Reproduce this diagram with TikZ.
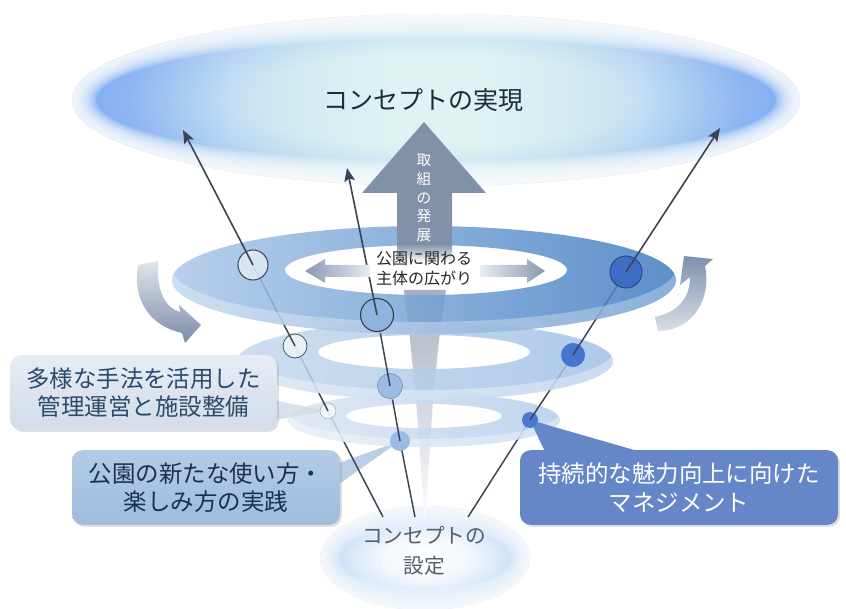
\documentclass[tikz,border=0pt]{standalone}
\usepackage{fontspec}
\setmainfont{Noto Sans CJK JP}
\usetikzlibrary{arrows.meta,shadows}
\definecolor{gc0}{HTML}{DFF3F2}
\definecolor{gside}{HTML}{6A9CF2}
\definecolor{gs1}{HTML}{72A1F3}
\definecolor{gs2}{HTML}{8DB5F3}
\definecolor{gs3}{HTML}{B4D2F4}
\definecolor{gs4}{HTML}{CCE7F1}
\definecolor{edgeb}{HTML}{9CC2F2}
\definecolor{bg0}{HTML}{FFFFFF}
\definecolor{bg1}{HTML}{F4F8FD}
\definecolor{bg2}{HTML}{D8E8F9}
\definecolor{bg3}{HTML}{BCD6F5}
\definecolor{spk}{HTML}{A9B1C0}
\definecolor{lnc}{HTML}{3B4454}
\definecolor{lr1}{HTML}{DCE7F3}
\definecolor{lr2}{HTML}{B4CEEC}
\definecolor{mr1}{HTML}{C6D9EE}
\definecolor{mr2}{HTML}{A2C1E6}
\definecolor{tr1}{HTML}{ACC9E9}
\definecolor{tr2}{HTML}{77A3D6}
\definecolor{tr3}{HTML}{407CC1}
\definecolor{agray}{HTML}{8290A8}
\definecolor{ha1}{HTML}{8A98B0}
\definecolor{ha2}{HTML}{E8ECF2}
\definecolor{ca1}{HTML}{E0E5EC}
\definecolor{ca2}{HTML}{7C8CA8}
\definecolor{cb1}{HTML}{7F90AE}
\definecolor{cb2}{HTML}{D8DEE7}
\definecolor{b1top}{HTML}{E6EDF4}
\definecolor{b1bot}{HTML}{D2DDE9}
\definecolor{b1txt}{HTML}{2E4A6A}
\definecolor{b2top}{HTML}{B3CBE5}
\definecolor{b2bot}{HTML}{9FBCDD}
\definecolor{b2txt}{HTML}{1B304E}
\definecolor{b3c}{HTML}{6586C7}
\definecolor{titlec}{HTML}{1E2B3C}
\definecolor{subc}{HTML}{262626}
\definecolor{botc}{HTML}{565F6B}
\definecolor{cm1c}{HTML}{98BCE4}
\definecolor{cm2c}{HTML}{9CBCE2}
\definecolor{cm2d}{HTML}{7D9CC6}
\definecolor{cm3c}{HTML}{8DB3DE}
\definecolor{cm3d}{HTML}{2F3B4E}
\definecolor{cr1c}{HTML}{4B78D0}
\definecolor{cr2c}{HTML}{4675D0}
\definecolor{cr3c}{HTML}{3E6DC6}
\definecolor{cr3d}{HTML}{2A457C}
\definecolor{cl3d}{HTML}{3E4A5C}
\definecolor{cl2d}{HTML}{4A5566}
\definecolor{cl1d}{HTML}{A8B6C6}
\pgfdeclarehorizontalshading{tophz}{100bp}{color(0bp)=(gside); color(25bp)=(gside); color(29bp)=(gs1); color(32bp)=(gs2); color(36bp)=(gs3); color(41bp)=(gs4); color(47bp)=(gc0); color(53bp)=(gc0); color(59bp)=(gs4); color(64bp)=(gs3); color(68bp)=(gs2); color(71bp)=(gs1); color(75bp)=(gside); color(100bp)=(gside)}
\pgfdeclareradialshading{toprad}{\pgfpoint{0bp}{0bp}}{color(0bp)=(gc0); color(13bp)=(gc0); color(25bp)=(edgeb); color(50bp)=(edgeb)}
\pgfdeclareradialshading{botglow}{\pgfpoint{0bp}{0bp}}{color(0bp)=(bg0); color(10bp)=(bg1); color(18bp)=(bg2); color(23bp)=(bg3); color(25bp)=(bg3); color(50bp)=(bg3)}
\begin{document}
\begin{tikzpicture}[x=0.75pt,y=-0.75pt,
  line/.style={draw=lnc, line width=1.1pt},
  tipline/.style={draw=lnc, line width=1.2pt, -{Stealth[length=10pt,width=8pt,inset=2pt]}},
  dot/.style={circle, inner sep=0pt, outer sep=0pt},
  callout/.style={rounded corners=8pt, minimum height=56pt, align=center, inner sep=0pt,
    font=\fontsize{17.6}{21.5}\selectfont,
    drop shadow={opacity=0.25, shadow xshift=1.5pt, shadow yshift=-1.5pt}},
]
\useasboundingbox (0,0) rectangle (846,609);
\fill[white] (0,0) rectangle (846,609);
% top glow
\shade[shading=tophz] (436,100) ellipse [x radius=364, y radius=86];
\shade[shading=toprad, opacity=0.45] (436,100) ellipse [x radius=364, y radius=86];
\foreach \k in {1,...,10}{
  \pgfmathsetmacro\rxk{364-2.4*\k}\pgfmathsetmacro\ryk{86-2.4*\k}
  \fill[white, opacity=0.2, even odd rule] (436,100) ellipse [x radius=364, y radius=86] (436,100) ellipse [x radius=\rxk, y radius=\ryk];
}
% bottom glow
\shade[shading=botglow] (425,558) ellipse [x radius=105, y radius=52];
\foreach \k in {1,...,8}{
  \pgfmathsetmacro\rxk{105-2.5*\k}\pgfmathsetmacro\ryk{52-2.5*\k}
  \fill[white, opacity=0.22, even odd rule] (425,558) ellipse [x radius=105, y radius=52] (425,558) ellipse [x radius=\rxk, y radius=\ryk];
}
% spike
\shade[top color=spk, bottom color=white] (404,290) -- (446,290) -- (439,340) -- (433,400) -- (425,522) -- (416,400) -- (410,340) -- cycle;
% coordinates
\coordinate (bL) at (383,517); \coordinate (tL) at (183,130);
\coordinate (bM) at (415,517); \coordinate (tM) at (347,168);
\coordinate (bR) at (468,517); \coordinate (tR) at (720,128);
\coordinate (pL1) at (328,411); \coordinate (pL2) at (295,346); \coordinate (pL3) at (253,265);
\coordinate (pM1) at (400,441); \coordinate (pM2) at (390,386); \coordinate (pM3) at (377,315);
\coordinate (pR1) at (530,420); \coordinate (pR2) at (573,355); \coordinate (pR3) at (626,272);
% pointer 2
\fill[b2top, opacity=0.9] (325,468) -- (pM1) -- (325,494) -- cycle;
% bottom segments
\draw[line] (bL) -- (pL1);
\draw[line] (bM) -- (pM1);
\draw[line] (bR) -- (pR1);
% lower ring
\shade[even odd rule, left color=lr1, right color=lr2, opacity=0.85] (424,420) ellipse [x radius=136, y radius=27] (424,416) ellipse [x radius=78, y radius=12];
\begin{scope}
  \clip (424,420) ellipse [x radius=136, y radius=27];
  \fill[white, opacity=0.35, even odd rule] (424,420) ellipse [x radius=136, y radius=27] (424,412) ellipse [x radius=136, y radius=27];
\end{scope}
% pointers 1 and 3
\fill[b1bot, opacity=0.85] (262,398) -- (pL1) -- (262,422) -- cycle;
\fill[b3c] (548,458) -- (pR1) -- (662,458) -- cycle;
% lower circles
\node[dot, minimum size=12pt, fill=white, fill opacity=0.6, draw=cl1d, line width=0.5pt] (cL1) at (pL1) {};
\node[dot, minimum size=15pt, fill=cm1c] (cM1) at (pM1) {};
\node[dot, minimum size=12pt, fill=cr1c] (cR1) at (pR1) {};
% lower -> middle
\draw[line] (cL1.center) -- (pL2);
\draw[line] (cM1.center) -- (pM2);
\draw[line] (cR1.center) -- (pR2);
% middle ring
\shade[even odd rule, left color=mr1, right color=mr2, opacity=0.85] (425,361) ellipse [x radius=188, y radius=39] (424,352) ellipse [x radius=106, y radius=17];
\begin{scope}
  \clip (425,361) ellipse [x radius=188, y radius=39];
  \fill[white, opacity=0.35, even odd rule] (425,361) ellipse [x radius=188, y radius=39] (425,351) ellipse [x radius=188, y radius=39];
\end{scope}
% middle circles
\node[dot, minimum size=18pt, fill=white, fill opacity=0.6, draw=cl2d, line width=0.6pt] (cL2) at (pL2) {};
\node[dot, minimum size=18.75pt, fill=cm2c, draw=cm2d, line width=0.6pt] (cM2) at (pM2) {};
\node[dot, minimum size=18pt, fill=cr2c] (cR2) at (pR2) {};
% middle -> top
\draw[line] (cL2.center) -- (pL3);
\draw[line] (cM2.center) -- (pM3);
\draw[line] (cR2.center) -- (pR3);
% top ring
\shade[even odd rule, left color=tr1, middle color=tr2, right color=tr3, opacity=0.85] (424,280) ellipse [x radius=252, y radius=54] (426,270) ellipse [x radius=141, y radius=25];
\begin{scope}
  \clip (424,280) ellipse [x radius=252, y radius=54];
  \fill[white, opacity=0.3, even odd rule] (424,280) ellipse [x radius=252, y radius=54] (424,268) ellipse [x radius=252, y radius=54];
\end{scope}
% top circles
\node[dot, minimum size=22.5pt, fill=white, fill opacity=0.55, draw=cl3d, line width=0.8pt] (cL3) at (pL3) {};
\node[dot, minimum size=24.75pt, fill=cm3c, draw=cm3d, line width=0.8pt] (cM3) at (pM3) {};
\node[dot, minimum size=24pt, fill=cr3c, draw=cr3d, line width=0.7pt] (cR3) at (pR3) {};
% big arrow
\fill[agray] (424,122) -- (486,193) -- (452,193) -- (452,245) -- (397,245) -- (397,193) -- (362,193) -- cycle;
\shade[top color=agray, bottom color=white] (397,244) rectangle (452,262);
% top segments with arrowheads
\draw[tipline] (cL3.center) -- (tL);
\draw[tipline] (cM3.center) -- (tM);
\draw[tipline] (cR3.center) -- (tR);
% horizontal arrows in hole
\shade[left color=ha1, right color=ha2] (305,271) -- (325,259) -- (325,265) -- (370,265) -- (370,277) -- (325,277) -- (325,283) -- cycle;
\shade[left color=ha2, right color=ha1] (545,271) -- (527,259) -- (527,265) -- (480,265) -- (480,277) -- (527,277) -- (527,283) -- cycle;
% texts
\node[text=titlec, font=\fontsize{18.75}{22}\selectfont] (title) at (423,100) {コンセプトの実現};
\node[text=white, align=center, font=\fontsize{11}{14}\selectfont] (dev) at (424,198) {取\\組\\の\\発\\展};
\node[text=subc, align=center, font=\fontsize{12}{15}\selectfont] (sub) at (424,269) {公園に関わる\\主体の広がり};
\node[text=botc, align=center, font=\fontsize{15.5}{22.5}\selectfont] (setl) at (424,551) {コンセプトの\\設定};
% curved side arrows
\shade[top color=ca1, bottom color=ca2] (138,265) .. controls (132,300) and (150,326) .. (182,333) -- (185,343) -- (201,325) -- (179,305) -- (180,312) .. controls (166,308) and (156,292) .. (158,261) -- cycle;
\shade[top color=cb1, bottom color=cb2] (655,317) .. controls (678,312) and (690,298) .. (690,277) -- (680,285) -- (684,256) -- (713,259) -- (705,266) .. controls (712,300) and (692,331) .. (658,331) -- cycle;
% callout boxes
\node[callout, top color=b1top, bottom color=b1bot, text=b1txt, minimum width=200pt] (box1) at (143.5,392.5) {多様な手法を活用した\\管理運営と施設整備};
\node[callout, top color=b2top, bottom color=b2bot, text=b2txt, minimum width=201pt] (box2) at (206,487.5) {公園の新たな使い方・\\楽しみ方の実践};
\node[callout, fill=b3c, text=white, minimum width=238.5pt] (box3) at (679,487.5) {持続的な魅力向上に向けた\\マネジメント};
\end{tikzpicture}
\end{document}
